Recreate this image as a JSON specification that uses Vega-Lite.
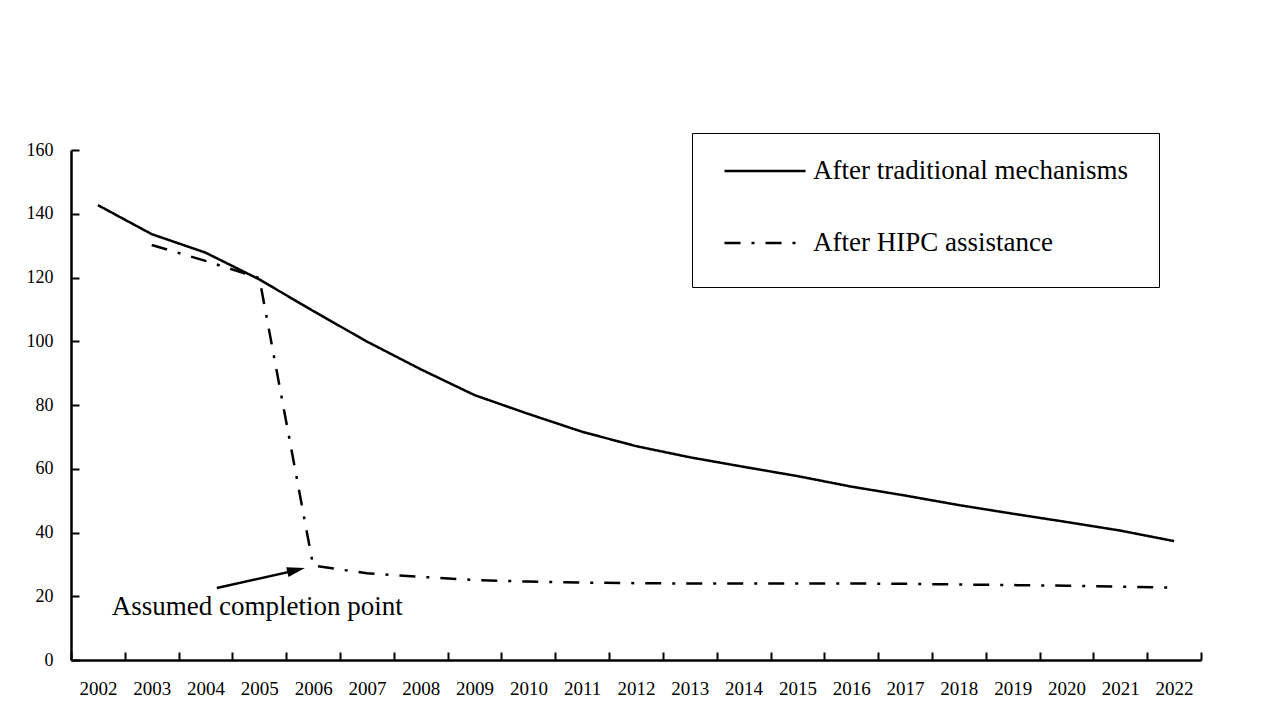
{
  "$schema": "https://vega.github.io/schema/vega-lite/v6.json",
  "width": 1130,
  "height": 510,
  "autosize": "none",
  "padding": {"left": 71, "top": 150, "right": 72, "bottom": 57},
  "background": "white",
  "config": {"view": {"stroke": null}, "font": "Liberation Serif"},
  "datasets": {
    "series": [
      {"year": "2002", "series": "After traditional mechanisms", "value": 142.7},
      {"year": "2003", "series": "After traditional mechanisms", "value": 133.6},
      {"year": "2004", "series": "After traditional mechanisms", "value": 127.8},
      {"year": "2005", "series": "After traditional mechanisms", "value": 119.4},
      {"year": "2006", "series": "After traditional mechanisms", "value": 109.5},
      {"year": "2007", "series": "After traditional mechanisms", "value": 99.9},
      {"year": "2008", "series": "After traditional mechanisms", "value": 91.2},
      {"year": "2009", "series": "After traditional mechanisms", "value": 83.1},
      {"year": "2010", "series": "After traditional mechanisms", "value": 77.2},
      {"year": "2011", "series": "After traditional mechanisms", "value": 71.6},
      {"year": "2012", "series": "After traditional mechanisms", "value": 67.1},
      {"year": "2013", "series": "After traditional mechanisms", "value": 63.6},
      {"year": "2014", "series": "After traditional mechanisms", "value": 60.6},
      {"year": "2015", "series": "After traditional mechanisms", "value": 57.7},
      {"year": "2016", "series": "After traditional mechanisms", "value": 54.4},
      {"year": "2017", "series": "After traditional mechanisms", "value": 51.6},
      {"year": "2018", "series": "After traditional mechanisms", "value": 48.6},
      {"year": "2019", "series": "After traditional mechanisms", "value": 45.9},
      {"year": "2020", "series": "After traditional mechanisms", "value": 43.3},
      {"year": "2021", "series": "After traditional mechanisms", "value": 40.6},
      {"year": "2022", "series": "After traditional mechanisms", "value": 37.3},
      {"year": "2003", "series": "After HIPC assistance", "value": 130.2},
      {"year": "2004", "series": "After HIPC assistance", "value": 125.2},
      {"year": "2005", "series": "After HIPC assistance", "value": 119.8},
      {"year": "2006", "series": "After HIPC assistance", "value": 29.6},
      {"year": "2007", "series": "After HIPC assistance", "value": 27.2},
      {"year": "2008", "series": "After HIPC assistance", "value": 26.1},
      {"year": "2009", "series": "After HIPC assistance", "value": 25.1},
      {"year": "2010", "series": "After HIPC assistance", "value": 24.6},
      {"year": "2011", "series": "After HIPC assistance", "value": 24.3},
      {"year": "2012", "series": "After HIPC assistance", "value": 24.1},
      {"year": "2013", "series": "After HIPC assistance", "value": 24.0},
      {"year": "2014", "series": "After HIPC assistance", "value": 24.0},
      {"year": "2015", "series": "After HIPC assistance", "value": 24.0},
      {"year": "2016", "series": "After HIPC assistance", "value": 24.0},
      {"year": "2017", "series": "After HIPC assistance", "value": 23.9},
      {"year": "2018", "series": "After HIPC assistance", "value": 23.7},
      {"year": "2019", "series": "After HIPC assistance", "value": 23.5},
      {"year": "2020", "series": "After HIPC assistance", "value": 23.3},
      {"year": "2021", "series": "After HIPC assistance", "value": 23.0},
      {"year": "2022", "series": "After HIPC assistance", "value": 22.7}
    ],
    "arrow": [
      {"x": 2004.21, "y": 22.6, "x2": 2005.7, "y2": 28.2}
    ],
    "head": [
      {"x": 2005.684, "y": 28.2}
    ],
    "label": [
      {"x": 2004.96, "y": 16.5, "text": "Assumed completion point"}
    ]
  },
  "layer": [
    {
      "data": {"name": "series"},
      "mark": {"type": "line", "color": "black", "strokeWidth": 2.5},
      "encoding": {
        "x": {
          "field": "year",
          "type": "ordinal",
          "bandPosition": 0.5,
          "scale": {"type": "band", "paddingInner": 0, "paddingOuter": 0},
          "axis": {
            "title": null,
            "labelAngle": 0,
            "tickBand": "extent",
            "tickSize": -8,
            "tickWidth": 2,
            "tickColor": "black",
            "domainColor": "black",
            "domainWidth": 2.5,
            "labelPadding": 27,
            "labelFontSize": 19,
            "labelColor": "black",
            "labelFont": "Liberation Serif"
          }
        },
        "y": {
          "field": "value",
          "type": "quantitative",
          "scale": {"domain": [0, 160], "nice": false},
          "axis": {
            "title": null,
            "grid": false,
            "values": [0, 20, 40, 60, 80, 100, 120, 140, 160],
            "tickSize": -8,
            "tickWidth": 2,
            "tickColor": "black",
            "domainColor": "black",
            "domainWidth": 2.5,
            "labelPadding": 26,
            "labelFontSize": 18,
            "labelColor": "black",
            "labelFont": "Liberation Serif"
          }
        },
        "strokeDash": {
          "field": "series",
          "type": "nominal",
          "scale": {
            "domain": ["After traditional mechanisms", "After HIPC assistance"],
            "range": [[1, 0], [16, 11, 3, 11]]
          },
          "legend": {
            "title": null,
            "orient": "none",
            "legendX": 621,
            "legendY": -17,
            "symbolType": "stroke",
            "symbolSize": 6561,
            "symbolStrokeColor": "black",
            "symbolStrokeWidth": 2.5,
            "clipHeight": 14,
            "labelFontSize": 27,
            "labelFont": "Liberation Serif",
            "labelColor": "black",
            "labelOffset": 6,
            "labelLimit": 500,
            "padding": 31,
            "rowPadding": 45,
            "strokeColor": "black",
            "fillColor": "white"
          }
        }
      }
    },
    {
      "data": {"name": "arrow"},
      "mark": {"type": "rule", "color": "black", "strokeWidth": 2.5},
      "encoding": {
        "x": {"field": "x", "type": "quantitative", "scale": {"domain": [2001.5, 2022.5], "nice": false, "zero": false}, "axis": null},
        "y": {"field": "y", "type": "quantitative"},
        "x2": {"field": "x2"},
        "y2": {"field": "y2"}
      }
    },
    {
      "data": {"name": "head"},
      "mark": {"type": "point", "shape": "M1,0L-1,-0.55L-1,0.55Z", "filled": true, "color": "black", "opacity": 1, "size": 324, "angle": 347},
      "encoding": {
        "x": {"field": "x", "type": "quantitative", "scale": {"domain": [2001.5, 2022.5], "nice": false, "zero": false}, "axis": null},
        "y": {"field": "y", "type": "quantitative"}
      }
    },
    {
      "data": {"name": "label"},
      "mark": {"type": "text", "color": "black", "font": "Liberation Serif", "fontSize": 27, "align": "center", "baseline": "middle"},
      "encoding": {
        "x": {"field": "x", "type": "quantitative", "scale": {"domain": [2001.5, 2022.5], "nice": false, "zero": false}, "axis": null},
        "y": {"field": "y", "type": "quantitative"},
        "text": {"field": "text"}
      }
    }
  ],
  "resolve": {"scale": {"x": "independent"}}
}
